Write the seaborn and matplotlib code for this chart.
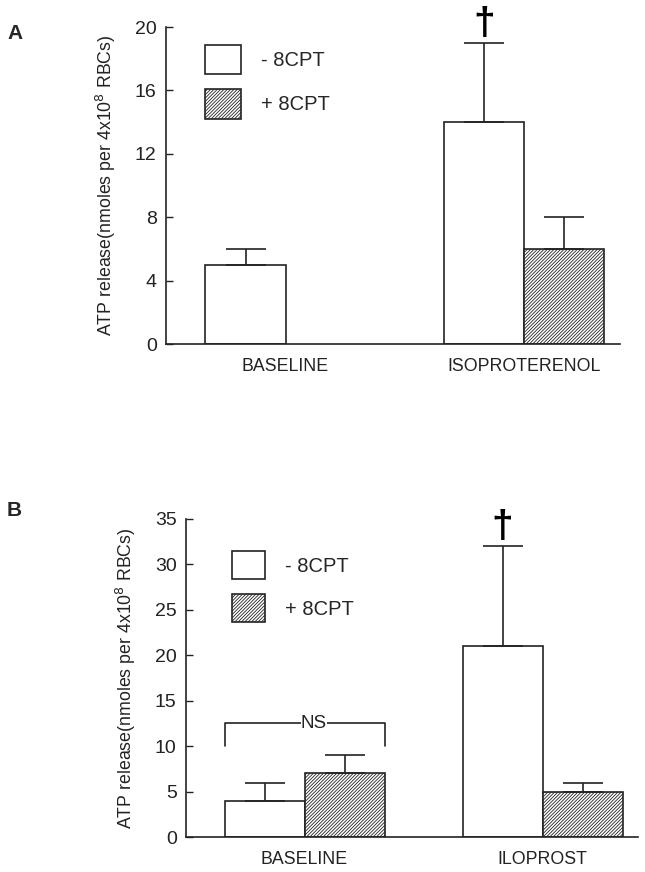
import matplotlib
matplotlib.use("Agg")
import matplotlib.pyplot as plt
import seaborn as sns
import pandas as pd
from matplotlib.patches import Patch

# data
treatments = ["- 8CPT", "+ 8CPT"]

a_groups = ["BASELINE", "ISOPROTERENOL", "ISOPROTERENOL"]
a_treat = ["- 8CPT", "- 8CPT", "+ 8CPT"]
a_mean = [5, 14, 6]
a_err = [1, 5, 2]

b_groups = ["BASELINE", "BASELINE", "ILOPROST", "ILOPROST"]
b_treat = ["- 8CPT", "+ 8CPT", "- 8CPT", "+ 8CPT"]
b_mean = [4, 7, 21, 5]
b_err = [2, 2, 11, 1]

sns.set_style("ticks")
plt.rcParams['font.family'] = ['Liberation Sans', 'DejaVu Sans']
plt.rcParams['hatch.linewidth'] = 0.6
plt.rcParams['hatch.color'] = '#555555'

ink = "#222222"
HATCH = "//////////"

fig = plt.figure(figsize=(6.45, 8.72), dpi=100)
axA = fig.add_axes([0.258, 0.6055, 0.703, 0.3635])
axB = fig.add_axes([0.289, 0.040, 0.700, 0.365])

ylabel = "ATP release(nmoles per 4x10$^{8}$ RBCs)"


def panel(ax, groups, treat, mean, err, order, yticks, ylim, xlim):
    df = pd.DataFrame({"group": groups, "treat": treat, "mean": mean, "err": err})
    sns.barplot(data=df, x="group", y="mean", hue="treat", order=order,
                hue_order=treatments, width=0.672, dodge=True,
                palette=["white", "white"], edgecolor=ink,
                linewidth=1.2, errorbar=None, legend=False, ax=ax)
    # hatch the +8CPT bars and add one-sided error bars
    tops = []
    for p in [p for p in ax.patches if p.get_height() > 0]:
        xc = p.get_x() + p.get_width() / 2
        g = order[int(round(xc))]
        t = treatments[0] if xc < round(xc) else treatments[1]
        row = df[(df.group == g) & (df.treat == t)].iloc[0]
        if t == "+ 8CPT":
            p.set_hatch(HATCH)
        ax.errorbar(xc, row["mean"], yerr=[[0], [row["err"]]], color=ink,
                    elinewidth=1.2, capsize=14.4, capthick=1.2, fmt="none")
        tops.append((xc, row["mean"] + row["err"]))
    ax.set_ylim(*ylim)
    ax.set_yticks(yticks)
    ax.set_xlim(*xlim)
    ax.set_xlabel("")
    ax.set_ylabel(ylabel, fontsize=12.8, color=ink, labelpad=12)
    ax.tick_params(axis="y", direction="in", length=5, width=1, labelsize=14,
                   colors=ink, pad=7)
    ax.tick_params(axis="x", length=0, labelsize=12.8, pad=10, colors=ink)
    sns.despine(ax=ax)
    for s in ["left", "bottom"]:
        ax.spines[s].set_linewidth(1.2)
        ax.spines[s].set_color(ink)
    handles = [Patch(facecolor="white", edgecolor=ink, linewidth=1.2),
               Patch(facecolor="white", edgecolor=ink, linewidth=1.2, hatch=HATCH)]
    # dagger above the tallest error bar
    xt, yt = max(tops, key=lambda t: t[1])
    ax.text(xt, yt + ylim[1] * 0.004, "\u2020", ha="center", va="bottom",
            fontsize=28, fontweight="bold", color="black")
    return tops, handles


topsA, handles = panel(axA, a_groups, a_treat, a_mean, a_err,
                       ["BASELINE", "ISOPROTERENOL"], [0, 4, 8, 12, 16, 20], (0, 20),
                       (-0.5, 1.403))
axA.legend(handles, treatments, loc="upper left", bbox_to_anchor=(0.045, 1.0),
           frameon=False, handlelength=1.8, handleheight=1.85, labelspacing=0.75,
           handletextpad=1.0, fontsize=14.5)

topsB, handles = panel(axB, b_groups, b_treat, b_mean, b_err,
                       ["BASELINE", "ILOPROST"], [0, 5, 10, 15, 20, 25, 30, 35], (0, 35),
                       (-0.496, 1.40))
axB.legend(handles, treatments, loc="upper left", bbox_to_anchor=(0.06, 0.955),
           frameon=False, handlelength=1.65, handleheight=1.75, labelspacing=0.75,
           handletextpad=1.0, fontsize=14.5)

# NS bracket over the baseline pair
bl = [t[0] for t in topsB if abs(t[0]) < 0.5]
x0, x1 = min(bl) - 0.168, max(bl) + 0.168
axB.plot([x0, x0, x1, x1], [10, 12.5, 12.5, 10], color=ink, lw=1.2)
axB.text((x0 + x1) / 2 + 0.04, 12.5, "NS", ha="center", va="center", fontsize=13.5,
         color=ink, bbox=dict(facecolor="white", edgecolor="none", pad=0.3))

fig.text(0.011, 0.962, "A", fontsize=15, fontweight="bold", va="center")
fig.text(0.011, 0.415, "B", fontsize=15, fontweight="bold", va="center")

fig.savefig("out.png", dpi=100)
